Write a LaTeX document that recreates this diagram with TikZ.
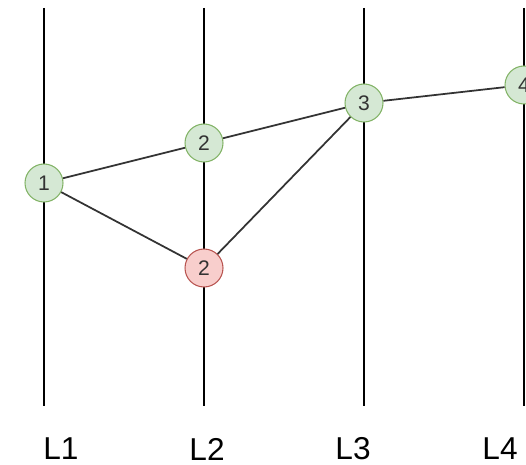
\documentclass[tikz,border=0pt]{standalone}
\usepackage{fontspec}
\setmainfont{Liberation Sans}
\definecolor{okfill}{HTML}{D5E8D4}
\definecolor{okline}{HTML}{82B366}
\definecolor{badfill}{HTML}{F8CECC}
\definecolor{badline}{HTML}{B85450}
\definecolor{edgegray}{HTML}{333333}
\tikzset{
	state/.style={circle, draw=okline, fill=okfill, line width=0.6pt, minimum size=0.76cm, inner sep=0pt, font=\fontsize{12}{14}\selectfont, text=edgegray},
	badstate/.style={state, draw=badline, fill=badfill},
	link/.style={draw=edgegray, line width=1pt}
}
\begin{document}
\begin{tikzpicture}[x=0.02cm, y=-0.02cm]
		\useasboundingbox (0,0) rectangle (526,465);

		% the four layers
		\foreach \i/\lx/\tx in {1/44/61, 2/204/207, 3/364/353, 4/524/500} {
			\draw[line width=0.9pt] (\lx,8) -- (\lx,406);
			\node[font=\fontsize{18}{20}\selectfont] (lab\i) at (\tx,449) {L\i};
		}

		\node[state] (n1) at (44,183) {1};
		\node[state] (n2) at (204,143) {2};
		\node[badstate] (n2b) at (204,268) {2};
		\node[state] (n3) at (364,103) {3};
		\node[state] (n4) at (524,85) {4};

		\draw[link] (n1) -- (n2);
		\draw[link] (n1) -- (n2b);
		\draw[link] (n2) -- (n3);
		\draw[link] (n2b) -- (n3);
		\draw[link] (n3) -- (n4);
	\end{tikzpicture}
\end{document}
